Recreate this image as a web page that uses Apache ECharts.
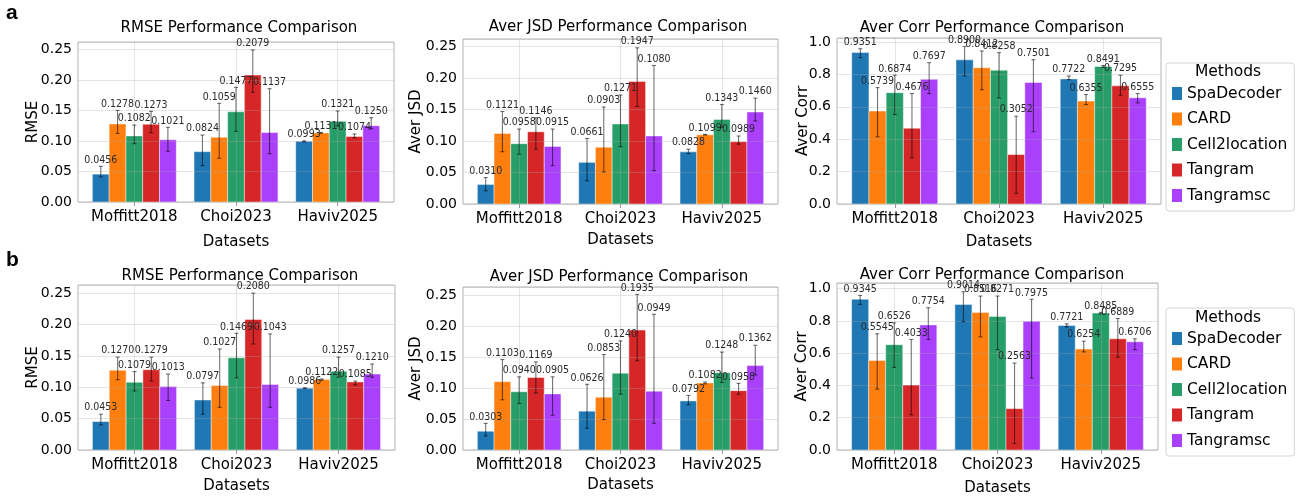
<!DOCTYPE html>
<html>
<head>
<meta charset="utf-8">
<script src="https://cdn.jsdelivr.net/npm/echarts@6/dist/echarts.min.js"></script>
<style>
  html, body { margin: 0; padding: 0; background: #fff; }
  #main { width: 1303px; height: 499px; }
</style>
</head>
<body>
<div id="main"></div>
<script>
/*==================== data ====================*/
var datasets = ['Moffitt2018', 'Choi2023', 'Haviv2025'];
var methods = ['SpaDecoder', 'CARD', 'Cell2location', 'Tangram', 'Tangramsc'];

// rows = methods, columns = datasets; error bars are asymmetric (lower / upper end)
// --- a ---
var rmseA   = [[0.0456, 0.0824, 0.0993], [0.1278, 0.1059, 0.1131], [0.1082, 0.1477, 0.1321], [0.1273, 0.2079, 0.1074], [0.1021, 0.1137, 0.1250]];
var rmseALo = [[0.0410, 0.0595, 0.0985], [0.1124, 0.0715, 0.1123], [0.0955, 0.1157, 0.1245], [0.1135, 0.1796, 0.1053], [0.0830, 0.0790, 0.1200]];
var rmseAHi = [[0.0584, 0.1097, 0.1001], [0.1500, 0.1616, 0.1139], [0.1260, 0.1878, 0.1490], [0.1485, 0.2490, 0.1114], [0.1223, 0.1856, 0.1380]];
var jsdA    = [[0.0310, 0.0661, 0.0828], [0.1121, 0.0903, 0.1099], [0.0958, 0.1271, 0.1343], [0.1146, 0.1947, 0.0989], [0.0915, 0.1080, 0.1460]];
var jsdALo  = [[0.0210, 0.0370, 0.0800], [0.0830, 0.0510, 0.1095], [0.0790, 0.0910, 0.1220], [0.0870, 0.1550, 0.0950], [0.0610, 0.0530, 0.1320]];
var jsdAHi  = [[0.0420, 0.1040, 0.0870], [0.1470, 0.1540, 0.1105], [0.1190, 0.1730, 0.1580], [0.1370, 0.2480, 0.1080], [0.1190, 0.2200, 0.1680]];
var corrA   = [[0.9351, 0.8900, 0.7722], [0.5739, 0.8412, 0.6355], [0.6874, 0.8258, 0.8491], [0.4676, 0.3052, 0.7295], [0.7697, 0.7501, 0.6555]];
var corrALo = [[0.9035, 0.790, 0.768], [0.4148, 0.706, 0.614], [0.5524, 0.655, 0.843], [0.2854, 0.066, 0.671], [0.682, 0.446, 0.624]];
var corrAHi = [[0.959, 0.973, 0.790], [0.7187, 0.945, 0.676], [0.7947, 0.934, 0.855], [0.682, 0.542, 0.795], [0.8727, 0.891, 0.682]];
// --- b ---
var rmseB   = [[0.0453, 0.0797, 0.0986], [0.1270, 0.1027, 0.1122], [0.1079, 0.1469, 0.1257], [0.1279, 0.2080, 0.1085], [0.1013, 0.1043, 0.1210]];
var rmseBLo = [[0.0400, 0.0570, 0.0981], [0.1120, 0.0680, 0.1112], [0.0940, 0.1150, 0.1160], [0.1100, 0.1690, 0.1040], [0.0790, 0.0680, 0.1160]];
var rmseBHi = [[0.0570, 0.1070, 0.0991], [0.1480, 0.1610, 0.1132], [0.1250, 0.1860, 0.1480], [0.1480, 0.2500, 0.1100], [0.1210, 0.1850, 0.1370]];
var jsdB    = [[0.0303, 0.0626, 0.0792], [0.1103, 0.0853, 0.1082], [0.0940, 0.1240, 0.1248], [0.1169, 0.1935, 0.0958], [0.0905, 0.0949, 0.1362]];
var jsdBLo  = [[0.0226, 0.0350, 0.0730], [0.0810, 0.0490, 0.1067], [0.0750, 0.0900, 0.1090], [0.0920, 0.1440, 0.0900], [0.0560, 0.0430, 0.1210]];
var jsdBHi  = [[0.0430, 0.1060, 0.0880], [0.1460, 0.1540, 0.1097], [0.1180, 0.1760, 0.1580], [0.1420, 0.2510, 0.1075], [0.1180, 0.2190, 0.1690]];
var corrB   = [[0.9345, 0.9014, 0.7721], [0.5545, 0.8516, 0.6254], [0.6526, 0.8271, 0.8485], [0.4033, 0.2563, 0.6889], [0.7754, 0.7975, 0.6706]];
var corrBLo = [[0.902, 0.795, 0.763], [0.378, 0.701, 0.608], [0.512, 0.622, 0.843], [0.218, 0.041, 0.575], [0.685, 0.446, 0.622]];
var corrBHi = [[0.958, 0.981, 0.782], [0.720, 0.954, 0.674], [0.788, 0.954, 0.853], [0.685, 0.539, 0.815], [0.882, 0.934, 0.689]];

/*==================== style / layout ====================*/
var colors = ['#1f77b4', '#ff7f0e', '#279e68', '#d62728', '#aa40fc'];
var BAR_W = 0.165;      // bar width in x units (category spacing = 1)
var X_MIN = -0.554, X_MAX = 2.554;
var FONT = "'DejaVu Sans', sans-serif";
var SMALL_FONT = "'Liberation Sans Narrow', 'DejaVu Sans Condensed', sans-serif";

var panels = [
    { vals: rmseA, lo: rmseALo, hi: rmseAHi, title: 'RMSE Performance Comparison',      yName: 'RMSE',      max: 0.262, step: 0.05, dig: 2,
      grid: [78, 42, 316, 160],  titleXY: [239, 28],  yGap: 37, xGap: 33 },
    { vals: jsdA,  lo: jsdALo,  hi: jsdAHi,  title: 'Aver JSD Performance Comparison',  yName: 'Aver JSD',  max: 0.262, step: 0.05, dig: 2,
      grid: [463, 39, 315, 165], titleXY: [618, 27],  yGap: 39, xGap: 29 },
    { vals: corrA, lo: corrALo, hi: corrAHi, title: 'Aver Corr Performance Comparison', yName: 'Aver Corr', max: 1.025, step: 0.2, dig: 1,
      grid: [837, 38, 324, 166], titleXY: [992, 28],  yGap: 26, xGap: 31 },
    { vals: rmseB, lo: rmseBLo, hi: rmseBHi, title: 'RMSE Performance Comparison',      yName: 'RMSE',      max: 0.263, step: 0.05, dig: 2,
      grid: [78, 285, 317, 165], titleXY: [240, 276], yGap: 37, xGap: 29 },
    { vals: jsdB,  lo: jsdBLo,  hi: jsdBHi,  title: 'Aver JSD Performance Comparison',  yName: 'Aver JSD',  max: 0.263, step: 0.05, dig: 2,
      grid: [463, 287, 315, 163], titleXY: [619, 277], yGap: 39, xGap: 28 },
    { vals: corrB, lo: corrBLo, hi: corrBHi, title: 'Aver Corr Performance Comparison', yName: 'Aver Corr', max: 1.035, step: 0.2, dig: 1,
      grid: [837, 283, 321, 167], titleXY: [992, 275], yGap: 27, xGap: 31 }
];

// bars
function renderBar(k) {
    return function (params, api) {
        var xc = api.value(0) + (k - 2) * BAR_W;
        var tl = api.coord([xc - BAR_W / 2, api.value(1)]);
        var br = api.coord([xc + BAR_W / 2, 0]);
        return {
            type: 'rect',
            shape: { x: tl[0], y: tl[1], width: br[0] - tl[0], height: br[1] - tl[1] },
            style: { fill: api.visual('color'), stroke: 'rgba(255,255,255,0.55)', lineWidth: 0.8 }
        };
    };
}

// error bar + value label, drawn above all bars
function renderErr(k) {
    return function (params, api) {
        var v = api.value(1);
        var xc = api.value(0) + (k - 2) * BAR_W;
        var top = api.coord([xc, api.value(3)]);
        var bot = api.coord([xc, api.value(2)]);
        var ex = top[0];
        var errStyle = { stroke: 'rgba(0,0,0,0.55)', lineWidth: 1.1 };
        return {
            type: 'group',
            children: [
                { type: 'line', shape: { x1: ex, y1: top[1], x2: ex, y2: bot[1] }, style: errStyle },
                { type: 'line', shape: { x1: ex - 2, y1: top[1], x2: ex + 2, y2: top[1] }, style: errStyle },
                { type: 'line', shape: { x1: ex - 2, y1: bot[1], x2: ex + 2, y2: bot[1] }, style: errStyle },
                { type: 'text',
                  style: { text: v.toFixed(4), x: ex, y: top[1] - 1, align: 'center', verticalAlign: 'bottom',
                           fontSize: 10.5, fontFamily: SMALL_FONT, fill: '#2a2a2a' } }
            ]
        };
    };
}

/*==================== option ====================*/
var grids = [], xAxes = [], yAxes = [], titles = [], series = [];

panels.forEach(function (p, i) {
    grids.push({ left: p.grid[0], top: p.grid[1], width: p.grid[2], height: p.grid[3],
                 show: true, borderColor: '#b5b5b5', borderWidth: 1, containLabel: false });
    xAxes.push({
        type: 'value', gridIndex: i, min: X_MIN, max: X_MAX, splitNumber: 3, z: 3,
        name: 'Datasets', nameLocation: 'middle', nameGap: p.xGap,
        nameTextStyle: { fontSize: 15, color: '#000', fontFamily: FONT },
        axisLine: { show: false },
        axisTick: { show: true, customValues: [0, 1, 2], length: 4, lineStyle: { color: '#999' } },
        axisLabel: { customValues: [0, 1, 2], margin: 8, fontSize: 15, color: '#000', fontFamily: FONT,
                     formatter: function (v) { return datasets[Math.round(v)]; } },
        splitLine: { show: true, lineStyle: { color: 'rgba(170,170,170,0.3)', width: 1 } }
    });
    yAxes.push({
        type: 'value', gridIndex: i, min: 0, max: p.max, interval: p.step, z: 3,
        name: p.yName, nameLocation: 'middle', nameGap: p.yGap, nameMoveOverlap: false,
        nameTextStyle: { fontSize: 15, color: '#000', fontFamily: FONT },
        axisLine: { show: false }, axisTick: { show: false },
        axisLabel: { margin: 6, fontSize: 14, color: '#000', fontFamily: FONT,
                     formatter: function (v) {
                         var r = v / p.step;
                         return Math.abs(r - Math.round(r)) < 1e-6 ? v.toFixed(p.dig) : '';
                     } },
        splitLine: { show: true, lineStyle: { color: 'rgba(170,170,170,0.3)', width: 1 } }
    });
    titles.push({ text: p.title, left: p.titleXY[0], top: p.titleXY[1] - 9, textAlign: 'center', padding: 0,
                  textStyle: { fontSize: 15, fontWeight: 'normal', color: '#000', fontFamily: FONT, lineHeight: 18 } });
    methods.forEach(function (m, k) {
        var data = datasets.map(function (d, j) { return [j, p.vals[k][j], p.lo[k][j], p.hi[k][j]]; });
        series.push({
            type: 'custom', name: m, xAxisIndex: i, yAxisIndex: i, z: 2,
            itemStyle: { color: colors[k] },
            dimensions: ['x', 'y', 'lo', 'hi'], encode: { x: 0, y: 1 },
            data: data, renderItem: renderBar(k)
        });
    });
    methods.forEach(function (m, k) {
        var data = datasets.map(function (d, j) { return [j, p.vals[k][j], p.lo[k][j], p.hi[k][j]]; });
        series.push({
            type: 'custom', name: m, xAxisIndex: i, yAxisIndex: i, z: 4,
            itemStyle: { color: colors[k] },
            dimensions: ['x', 'y', 'lo', 'hi'], encode: { x: 0, y: 1 },
            data: data, renderItem: renderErr(k)
        });
    });
});

// legend titles
[72, 318].forEach(function (y) {
    titles.push({ text: 'Methods', left: 1228, top: y - 9, textAlign: 'center', padding: 0,
                  textStyle: { fontSize: 15.5, fontWeight: 'normal', color: '#000', fontFamily: FONT, lineHeight: 18 } });
});

function makeLegend(top) {
    return {
        orient: 'vertical', left: 1166, top: top, icon: 'rect',
        itemWidth: 10, itemHeight: 13, itemGap: 9.5,
        padding: [22.5, 7, 7.5, 6],
        borderColor: '#d4d4d4', borderWidth: 1, borderRadius: 3, backgroundColor: '#fff',
        textStyle: { fontSize: 15.5, color: '#000', fontFamily: FONT, lineHeight: 13 },
        data: methods
    };
}

var option = {
    backgroundColor: '#fff',
    animation: false,
    title: titles,
    legend: [makeLegend(63), makeLegend(308)],
    grid: grids,
    xAxis: xAxes,
    yAxis: yAxes,
    series: series,
    graphic: [
        { type: 'text', left: 6, top: 3, style: { text: 'a', font: "bold 21px 'Liberation Sans', Arial, sans-serif", fill: '#000' } },
        { type: 'text', left: 6, top: 250, style: { text: 'b', font: "bold 21px 'Liberation Sans', Arial, sans-serif", fill: '#000' } }
    ]
};

var chart = echarts.init(document.getElementById('main'), null, { renderer: 'canvas' });
chart.setOption(option);
</script>
</body>
</html>
